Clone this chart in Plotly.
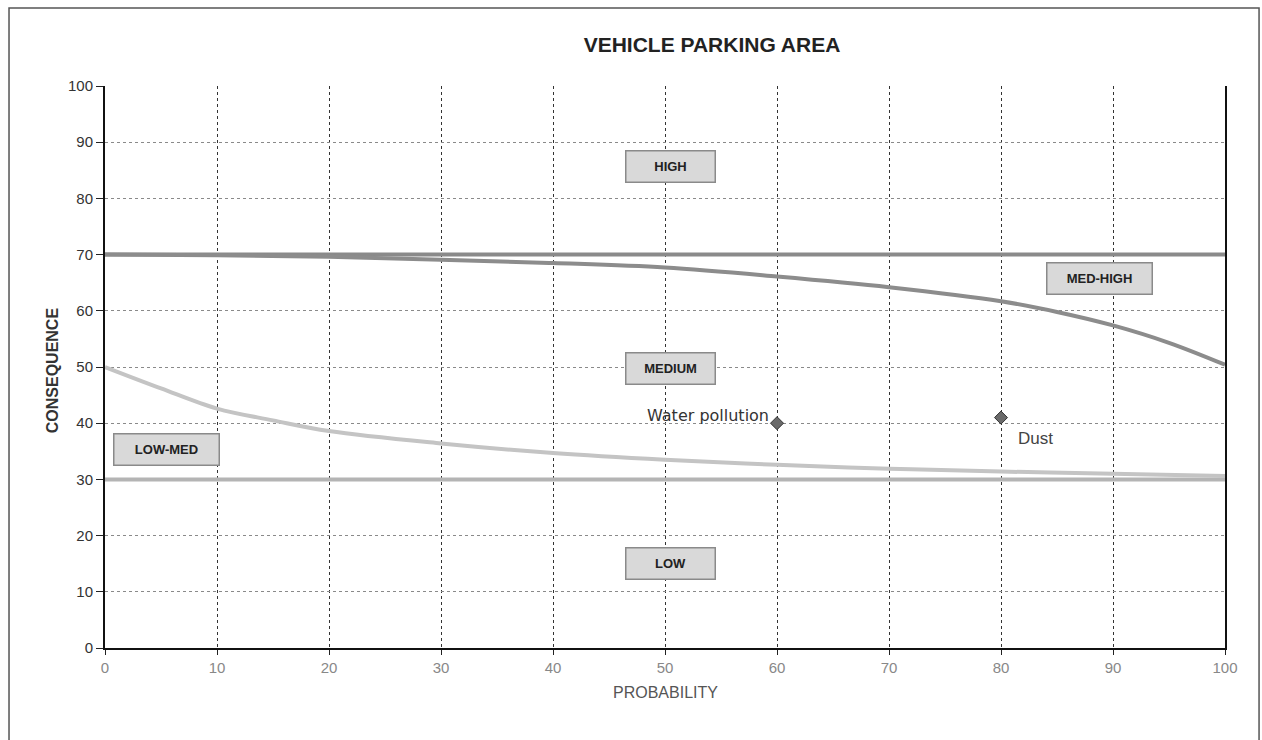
import plotly.graph_objects as go

# ---- data ----
x_ticks = [0, 10, 20, 30, 40, 50, 60, 70, 80, 90, 100]
y_ticks = [0, 10, 20, 30, 40, 50, 60, 70, 80, 90, 100]

upper_x = [0, 10, 20, 30, 40, 50, 60, 70, 80, 85, 90, 95, 100]
upper_y = [70, 69.9, 69.6, 69.1, 68.5, 67.7, 66.1, 64.2, 61.7, 59.8, 57.4, 54.3, 50.4]

lower_x = [0, 5, 10, 15, 20, 30, 40, 50, 60, 70, 80, 90, 100]
lower_y = [50, 46.2, 42.6, 40.5, 38.6, 36.4, 34.7, 33.5, 32.6, 31.9, 31.4, 31.0, 30.6]

high_line_x = [0, 100]
high_line_y = [70, 70]
low_line_x = [0, 100]
low_line_y = [30, 30]

risk_names = ["Water pollution", "Dust"]
risk_prob = [60, 80]
risk_cons = [40, 41]

zone_names = ["HIGH", "MEDIUM", "LOW", "LOW-MED", "MED-HIGH"]
zone_x = [50.5, 50.5, 50.5, 5.5, 88.8]
zone_y = [85.6, 49.8, 15.0, 35.3, 65.8]

fig = go.Figure()

fig.add_trace(go.Scatter(x=high_line_x, y=high_line_y, mode="lines",
                         line=dict(color="#8a8a8a", width=4), hoverinfo="skip"))
fig.add_trace(go.Scatter(x=low_line_x, y=low_line_y, mode="lines",
                         line=dict(color="#b4b4b4", width=4), hoverinfo="skip"))
fig.add_trace(go.Scatter(x=upper_x, y=upper_y, mode="lines", line_shape="spline",
                         line=dict(color="#8c8c8c", width=4), hoverinfo="skip"))
fig.add_trace(go.Scatter(x=lower_x, y=lower_y, mode="lines", line_shape="spline",
                         line=dict(color="#c4c4c4", width=4), hoverinfo="skip"))
fig.add_trace(go.Scatter(x=risk_prob, y=risk_cons, mode="markers", text=risk_names,
                         marker=dict(symbol="diamond", size=10, color="#6a6a6a",
                                     line=dict(color="#333333", width=1))))

# risk labels
fig.add_annotation(x=risk_prob[0], y=risk_cons[0], text=risk_names[0], showarrow=False,
                   xanchor="right", yanchor="middle", xshift=-6, yshift=8,
                   font=dict(family="DejaVu Sans", size=16, color="#333333"))
fig.add_annotation(x=risk_prob[1], y=risk_cons[1], text=risk_names[1], showarrow=False,
                   xanchor="left", yanchor="middle", xshift=15, yshift=-21,
                   font=dict(family="Liberation Sans, Arial", size=17, color="#444444"))

# zone boxes
for name, zx, zy in zip(zone_names, zone_x, zone_y):
    w = 104 if name in ("LOW-MED", "MED-HIGH") else 88
    fig.add_annotation(x=zx, y=zy, text="<b>" + name + "</b>", showarrow=False,
                       width=w, height=30, bgcolor="#d9d9d9", bordercolor="#8a8a8a",
                       borderwidth=1.5, borderpad=0,
                       font=dict(family="Liberation Sans, Arial", size=13, color="#222222"))

# axis titles
fig.add_annotation(xref="paper", yref="paper", x=0.5, y=-0.098, text="PROBABILITY",
                   showarrow=False, font=dict(family="Liberation Sans, Arial", size=16, color="#555555"))
fig.add_annotation(xref="paper", yref="paper", x=-0.0563, y=0.495, text="<b>CONSEQUENCE</b>",
                   showarrow=False, textangle=-90,
                   font=dict(family="Liberation Sans, Arial", size=16, color="#333333"))

# outer frame
fig.add_shape(type="rect", xref="paper", yref="paper",
              x0=-0.0857, x1=1.0304, y0=-0.18, y1=1.1388,
              line=dict(color="#555555", width=1.5), layer="below")

fig.update_layout(
    width=1262, height=740,
    margin=dict(l=105, r=37, t=86, b=92),
    paper_bgcolor="white", plot_bgcolor="white",
    showlegend=False,
    title=dict(text="<b>VEHICLE PARKING AREA</b>", x=712 / 1262, xanchor="center",
               y=1 - 45 / 740, yanchor="middle",
               font=dict(family="Liberation Sans, Arial", size=21, color="#222222")),
    xaxis=dict(range=[0, 100], tickvals=x_ticks, ticktext=[str(v) for v in x_ticks],
               showgrid=True, gridcolor="#333333", griddash="dot", gridwidth=1,
               showline=True, linecolor="#111111", linewidth=2,
               ticks="outside", ticklen=5, tickcolor="#222222",
               tickfont=dict(family="Liberation Sans, Arial", size=15, color="#888888"),
               zeroline=False, fixedrange=True),
    yaxis=dict(range=[0, 100], tickvals=y_ticks, ticktext=[str(v) for v in y_ticks],
               showgrid=True, gridcolor="#8a8a8a", griddash="dot", gridwidth=1,
               showline=True, linecolor="#111111", linewidth=2, mirror=True,
               ticks="outside", ticklen=7, tickcolor="#222222",
               tickfont=dict(family="Liberation Sans, Arial", size=15, color="#333333"),
               zeroline=False, fixedrange=True),
)

fig.write_html("out.html")
